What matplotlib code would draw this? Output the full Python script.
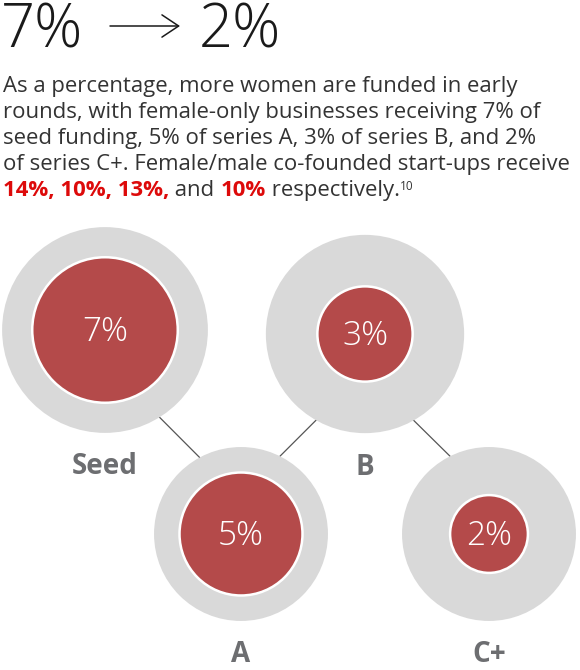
import numpy as np
import matplotlib
matplotlib.use("Agg")
import matplotlib.pyplot as plt
from matplotlib.patches import Circle

# data
stages = ["Seed", "A", "B", "C+"]
female_only = [7, 5, 3, 2]      # % of funding, female-only founders
co_founded = [14, 10, 13, 10]   # % of funding, female/male co-founded

# layout (pixels, y down)
cx = [105, 241, 365, 489]
cy = [330, 534, 334, 534]
K = 27.5  # px per sqrt(%) -> circle area tracks the value

# connectors: (from stage, angle deg, to stage, angle deg)
links = [(0, 58, 1, 241.6), (1, -63.4, 2, 119.6), (2, 60.6, 3, 243.4)]

RED = "#B44A4A"
GREY = "#D9D9D9"
LABEL = "#6D6E71"
TXT = "#333333"
HOT = "#DD0A0A"

plt.rcParams["font.family"] = ["Open Sans", "DejaVu Sans"]

fig = plt.figure(figsize=(5.8, 6.7), dpi=100)
ax = fig.add_axes([0, 0, 1, 1])
ax.set_xlim(0, 580)
ax.set_ylim(670, 0)
ax.axis("off")

# header
ax.text(1, 48, "7%", fontsize=43, fontweight="light", color="#1A1A1A", va="baseline")
ax.text(199, 48, "2%", fontsize=43, fontweight="light", color="#1A1A1A", va="baseline")
ax.annotate("", xy=(180, 26), xytext=(110, 26),
            arrowprops=dict(arrowstyle="->,head_length=0.6,head_width=0.4",
                            lw=1.1, color="#1A1A1A", mutation_scale=20,
                            shrinkA=0, shrinkB=0))

body = [
    "As a percentage, more women are funded in early",
    "rounds, with female-only businesses receiving 7% of",
    "seed funding, 5% of series A, 3% of series B, and 2%",
    "of series C+. Female/male co-founded start-ups receive",
]
FS = 15.9
y0 = 92
step = 26
for i, line in enumerate(body):
    ax.text(3, y0 + i * step, line, fontsize=FS, color=TXT, va="baseline")

# last line with mixed colours
runs = [
    ("14%, 10%, 13%,", HOT, "bold", FS, 0),
    (" and ", TXT, "normal", FS, 0),
    ("10%", HOT, "bold", FS, 0),
    (" respectively.", TXT, "normal", FS, 0),
    ("10", TXT, "normal", 8.5, -6),
]
fig.canvas.draw()
renderer = fig.canvas.get_renderer()
x = 3
ybase = y0 + 4 * step
for s, c, w, fs, dy in runs:
    t = ax.text(x, ybase + dy, s, fontsize=fs, color=c, fontweight=w, va="baseline")
    bb = t.get_window_extent(renderer)
    x += bb.width

# connectors behind circles
for a, ang_a, b, ang_b in links:
    ra = K * np.sqrt(co_founded[a])
    rb = K * np.sqrt(co_founded[b])
    xa = cx[a] + ra * np.cos(np.radians(ang_a))
    ya = cy[a] + ra * np.sin(np.radians(ang_a))
    xb = cx[b] + rb * np.cos(np.radians(ang_b))
    yb = cy[b] + rb * np.sin(np.radians(ang_b))
    ax.plot([xa, xb], [ya, yb], color="#555555", lw=0.9, zorder=1)

for i, name in enumerate(stages):
    r_out = K * np.sqrt(co_founded[i])
    r_in = K * np.sqrt(female_only[i])
    ax.add_patch(Circle((cx[i], cy[i]), r_out, facecolor=GREY, edgecolor="none", zorder=2))
    ax.add_patch(Circle((cx[i], cy[i]), r_in, facecolor=RED, edgecolor="white", lw=1.8, zorder=3))
    ax.text(cx[i], cy[i] + 2, f"{female_only[i]}%", fontsize=24, fontweight="light",
            color="white", ha="center", va="center", zorder=4)
    ax.text(cx[i], cy[i] + r_out + 34, name, fontsize=20, fontweight="bold",
            color=LABEL, ha="center", va="center", zorder=4)

fig.savefig("out.png", dpi=100)
